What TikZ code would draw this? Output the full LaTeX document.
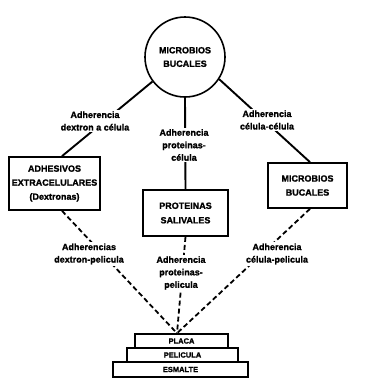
\documentclass[tikz,border=0pt]{standalone}
\usepackage{fontspec}
\setmainfont{Liberation Sans}[BoldFont={Liberation Sans Bold},BoldFeatures={FakeBold=1.5}]
\usetikzlibrary{backgrounds}
\begin{document}
\begin{tikzpicture}[x=1pt,y=-1pt,
  every node/.style={font=\bfseries\fontsize{9}{12.5}\selectfont, align=center},
  lab/.style={fill=white, inner sep=1.5pt},
  bx/.style={draw, line width=1.7pt, inner sep=0pt, fill=white},
  layer/.style={draw, line width=1.5pt, inner sep=0pt, minimum height=14pt,
                font=\bfseries\fontsize{7.5}{8}\selectfont},
  solidline/.style={line width=1.9pt},
  dashline/.style={line width=1.8pt, dash pattern=on 5pt off 3pt}]
\useasboundingbox (0,0) rectangle (374,389);

\node[draw, circle, line width=1.6pt, minimum size=80pt, inner sep=0pt,
      font=\bfseries\fontsize{9}{13.5}\selectfont] (circ) at (185,57) {MICROBIOS\\BUCALES};

\node[bx, minimum width=91pt, minimum height=53pt,
      font=\bfseries\fontsize{9}{14}\selectfont] (box1) at (54.5,183.5)
  {ADHESIVOS\\EXTRACELULARES\\(Dextronas)};
\node[bx, minimum width=85pt, minimum height=46pt,
      font=\bfseries\fontsize{9}{14.5}\selectfont] (box2) at (185.5,213) {PROTEINAS\\SALIVALES};
\node[bx, minimum width=79pt, minimum height=45pt,
      font=\bfseries\fontsize{9}{14}\selectfont] (box3) at (307.5,185.5) {MICROBIOS\\BUCALES};

\node[lab] (lab1) at (95,121) {Adherencia\\dextron a célula};
\node[lab] (lab2) at (184,145) {Adherencia\\proteinas-\\célula};
\node[lab] (lab3) at (267,120) {Adherencia\\célula-célula};
\node[lab] (lab4) at (89,254) {Adherencias\\dextron-pelicula};
\node[lab] (lab5) at (181,273) {Adherencia\\proteinas-\\pelicula};
\node[lab] (lab6) at (277,254) {Adherencia\\célula-pelicula};

\node[layer, minimum width=93pt] (placa) at (181.5,341) {PLACA};
\node[layer, minimum width=111pt] (pelicula) at (182.5,355) {PELICULA};
\node[layer, minimum width=135pt, minimum height=15pt] (esmalte) at (180.5,369.5) {ESMALTE};

\coordinate (meet) at ([xshift=-4.5pt]placa.north);

\begin{scope}[on background layer]
  \draw[solidline] (circ.217) -- ([xshift=7.5pt]box1.north);
  \draw[solidline] (circ.south) -- (box2.north);
  \draw[solidline] (circ.327) -- ([xshift=2.5pt]box3.north);
  \draw[dashline] ([xshift=7.5pt]box1.south) -- (meet);
  \draw[dashline] (box2.south) -- (meet);
  \draw[dashline] ([xshift=2.5pt]box3.south) -- (meet);
\end{scope}
\end{tikzpicture}
\end{document}
